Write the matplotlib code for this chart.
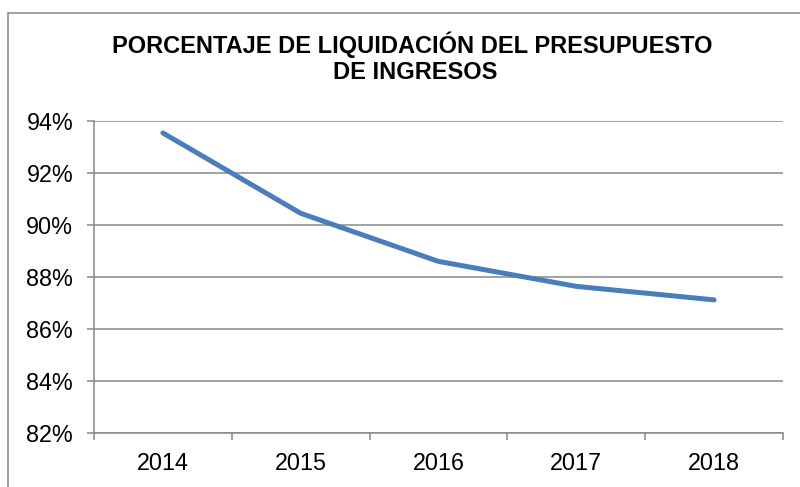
import matplotlib
matplotlib.use("Agg")
import matplotlib.pyplot as plt
from matplotlib.patches import Rectangle
from matplotlib.ticker import FuncFormatter

years = ["2014", "2015", "2016", "2017", "2018"]
values = [93.54, 90.45, 88.60, 87.64, 87.12]
y_ticks = [82, 84, 86, 88, 90, 92, 94]
title_lines = ["PORCENTAJE DE LIQUIDACIÓN DEL PRESUPUESTO", "DE INGRESOS"]

plt.rcParams['font.family'] = ['Liberation Sans', 'DejaVu Sans']
grid_col = "#878787"

fig = plt.figure(figsize=(8, 4.87), dpi=100)
ax = fig.add_axes([94/800, 1-433/487, (783-94)/800, (433-121)/487])

x = list(range(len(years)))
ax.plot(x, values, color="#4A7EBB", linewidth=3.6, solid_capstyle='round', solid_joinstyle='round', zorder=3)

ax.set_xlim(-0.5, len(years)-0.5)
ax.set_ylim(82, 94)
ax.set_yticks(y_ticks)
ax.yaxis.set_major_formatter(FuncFormatter(lambda v, p: f"{v:.0f}%"))
ax.set_xticks(x)
ax.set_xticklabels(years)
ax.set_xticks([i-0.5 for i in range(len(years)+1)], minor=True)
ax.tick_params(axis='x', which='major', length=0, pad=14, labelsize=16.8)
ax.tick_params(axis='x', which='minor', length=5, width=1.1, color=grid_col)
ax.tick_params(axis='y', length=5, width=1.1, color=grid_col, pad=10, labelsize=16.8)
ax.grid(axis='y', color=grid_col, linewidth=1.1, zorder=1)
for s in ['top', 'right']:
    ax.spines[s].set_visible(False)
for s in ['left', 'bottom']:
    ax.spines[s].set_color(grid_col)
    ax.spines[s].set_linewidth(1.1)

fig.text(412/800, 1-52.5/487, title_lines[0], ha='center', va='baseline', fontsize=17, fontweight='bold')
fig.text(415/800, 1-79/487, title_lines[1], ha='center', va='baseline', fontsize=17, fontweight='bold')

fig.patches.append(Rectangle((8/800, -0.2), 1.2, 1-12.5/487+0.2, transform=fig.transFigure,
                             fill=False, edgecolor=grid_col, linewidth=1.1))

fig.savefig("out.png", dpi=100)
